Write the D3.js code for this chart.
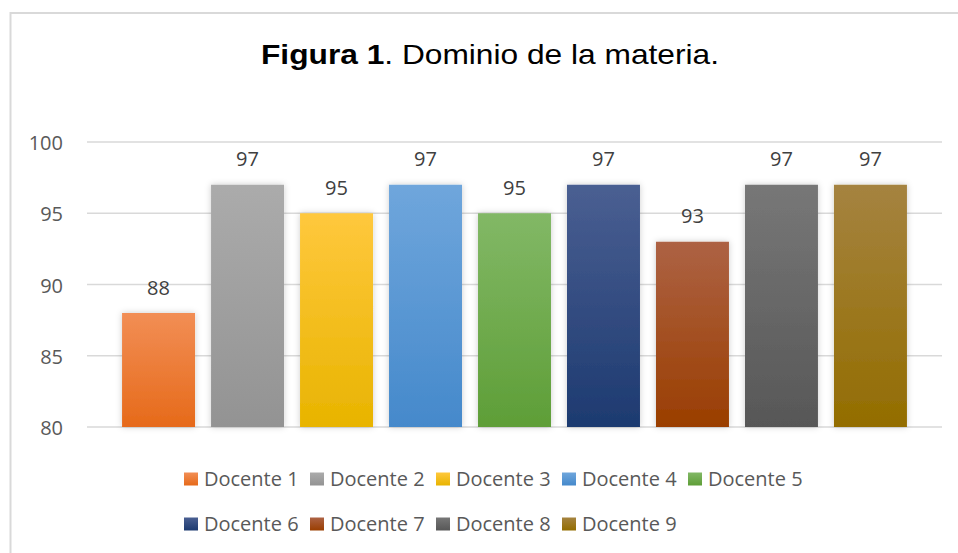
<!DOCTYPE html>
<html><head><meta charset="utf-8">
<script src="https://cdn.jsdelivr.net/npm/d3@7"></script>
<style>body{margin:0;background:#fff;}svg{display:block;}</style>
</head><body>
<svg id="chart" width="958" height="553"></svg>
<script>
const categories = ["Docente 1","Docente 2","Docente 3","Docente 4","Docente 5","Docente 6","Docente 7","Docente 8","Docente 9"];
const values = [88, 97, 95, 97, 95, 97, 93, 97, 97];
const yTicks = [80, 85, 90, 95, 100];
const colorsTop = ["#F28E55","#ABABAB","#FFC83D","#6FA6DC","#82B866","#4A5F92","#AD6244","#777777","#A58340"];
const colorsBottom = ["#E66A1A","#939393","#E8B400","#4589CB","#5E9E37","#1D3A70","#9A3E00","#575757","#936D00"];

const svg = d3.select("#chart");
const W = 958, H = 553;
svg.append("rect").attr("x",10.5).attr("y",13).attr("width",W).attr("height",H)
  .attr("fill","#fff").attr("stroke","#D9D9D9").attr("stroke-width",2);

const defs = svg.append("defs");
categories.forEach((c,i)=>{
  const g = defs.append("linearGradient").attr("id","g"+i).attr("x1",0).attr("y1",0).attr("x2",0).attr("y2",1);
  g.append("stop").attr("offset","0%").attr("stop-color",colorsTop[i]);
  g.append("stop").attr("offset","100%").attr("stop-color",colorsBottom[i]);
});
const f = defs.append("filter").attr("id","sh").attr("x","-20%").attr("y","-10%").attr("width","140%").attr("height","120%");
f.append("feDropShadow").attr("dx",0).attr("dy",0).attr("stdDeviation",3).attr("flood-color","#000").attr("flood-opacity",0.2);

// title
const t = svg.append("text").attr("x",490).attr("y",63.5).attr("text-anchor","middle")
  .attr("font-family","'Liberation Sans', Arial, sans-serif").attr("font-size",28).attr("fill","#000")
  .attr("textLength",458).attr("lengthAdjust","spacingAndGlyphs");
t.append("tspan").attr("font-weight","bold").text("Figura 1");
t.append("tspan").text(". Dominio de la materia.");

const y = d3.scaleLinear().domain([80,100]).range([427,142]);
const x = d3.scaleBand().domain(categories).range([87,942]).paddingInner(0.18).paddingOuter(0.394);

// gridlines
svg.append("g").selectAll("line").data(yTicks).join("line")
  .attr("x1",87).attr("x2",942).attr("y1",d=>y(d)).attr("y2",d=>y(d))
  .attr("stroke","#D9D9D9").attr("stroke-width",1.5);

// y axis labels
const yAxis = d3.axisLeft(y).tickValues(yTicks).tickSize(0).tickPadding(0);
const ya = svg.append("g").attr("transform","translate(63,0)").call(yAxis);
ya.select(".domain").remove();
ya.selectAll("text").attr("font-family","'Open Sans', sans-serif").attr("font-size",20)
  .attr("fill","#595959").attr("dy","0.38em");

// bars
svg.append("g").selectAll("rect").data(values).join("rect")
  .attr("x",(d,i)=>x(categories[i])).attr("width",x.bandwidth())
  .attr("y",d=>y(d)).attr("height",d=>y(80)-y(d))
  .attr("fill",(d,i)=>"url(#g"+i+")").attr("filter","url(#sh)");

// data labels
svg.append("g").selectAll("text").data(values).join("text")
  .attr("x",(d,i)=>x(categories[i])+x.bandwidth()/2).attr("y",d=>y(d)-18.5)
  .attr("text-anchor","middle").attr("font-family","'Open Sans', sans-serif").attr("font-size",20)
  .attr("fill","#404040").text(d=>d);

// legend
const legendRows = [[0,1,2,3,4],[5,6,7,8]];
const lx0 = 184, dx = 126;
legendRows.forEach((row,r)=>{
  row.forEach((i,k)=>{
    const gx = lx0 + k*dx, gy = 479 + r*45;
    svg.append("rect").attr("x",gx).attr("y",gy-6.5).attr("width",14).attr("height",13)
      .attr("fill","url(#g"+i+")");
    svg.append("text").attr("x",gx+20).attr("y",gy).attr("dy","0.36em")
      .attr("font-family","'Open Sans', sans-serif").attr("font-size",20).attr("fill","#595959")
      .text(categories[i]);
  });
});
</script>
</body></html>
